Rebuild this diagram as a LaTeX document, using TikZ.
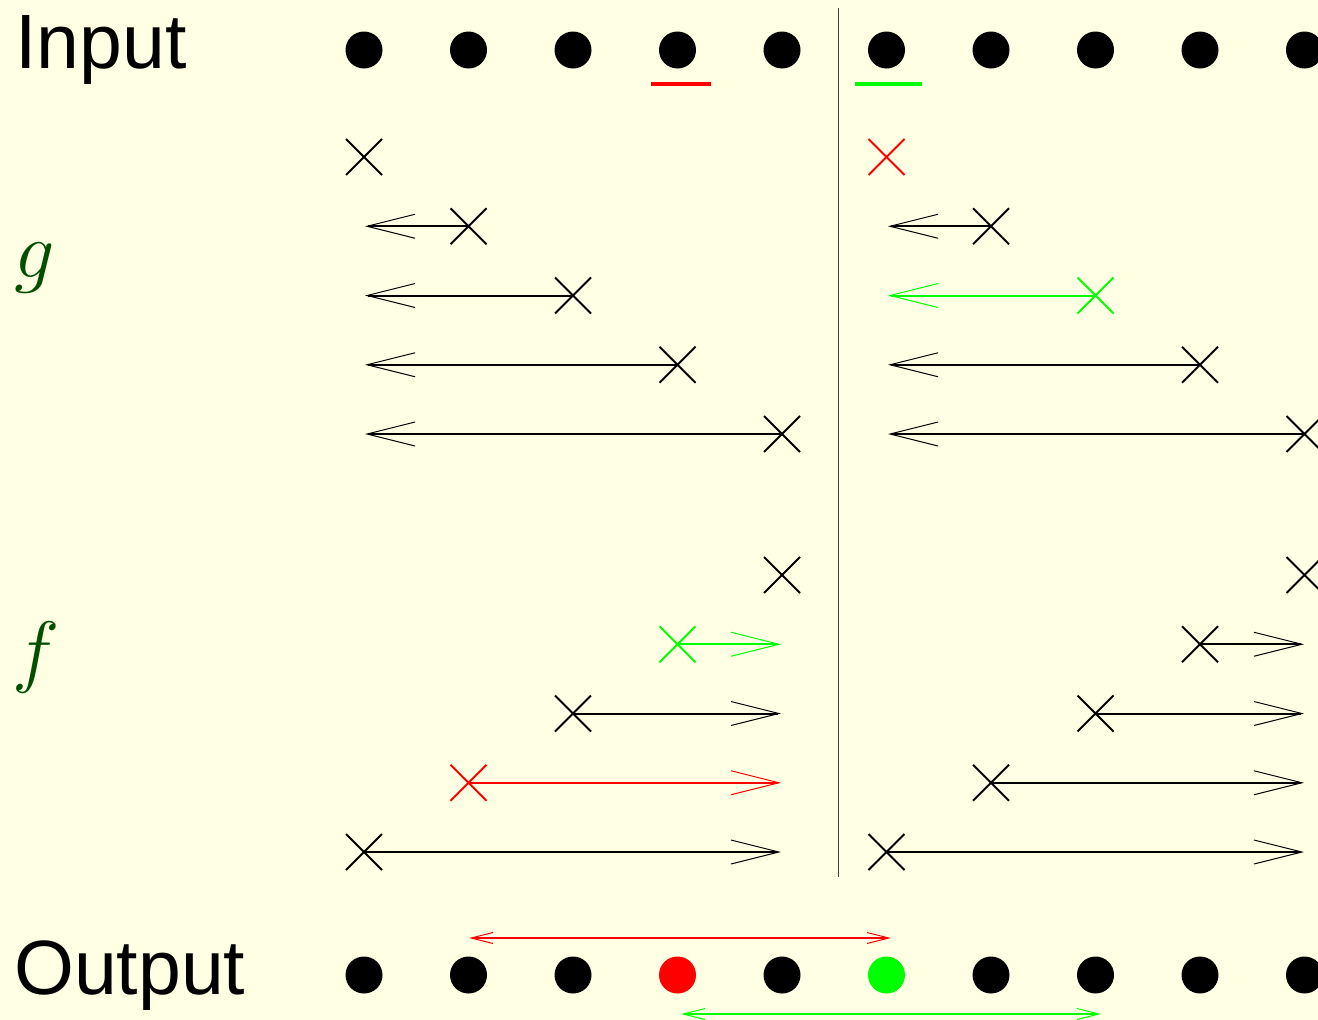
\RequirePackage{fix-cm}
\documentclass[tikz,border=0pt]{standalone}
\usepackage{fontspec}
\setmainfont{Liberation Sans}
\usetikzlibrary{arrows.meta,shapes.misc,calc}
\definecolor{bg}{RGB}{255,255,228}
\definecolor{dkgreen}{RGB}{0,80,0}
\definecolor{pgreen}{RGB}{0,255,0}
\definecolor{pred}{RGB}{255,0,0}
\begin{document}
\begin{tikzpicture}[x=1pt,y=-1pt,
  dot/.style={circle,fill=#1,inner sep=0pt,minimum size=37pt},
  dot/.default=black,
  xmark/.style={cross out,draw=#1,line width=2pt,inner sep=0pt,outer sep=0pt,minimum size=36pt},
  xmark/.default=black,
  bigarrow/.style={-{Straight Barb[length=48pt,width=24pt,line width=1pt]},line width=2pt},
  smallarrow/.style={{Straight Barb[length=22pt,width=11pt,line width=1pt]}-{Straight Barb[length=22pt,width=11pt,line width=1pt]},line width=2pt},
  lbl/.style={anchor=base west,inner sep=0pt,font=\fontsize{77}{80}\selectfont},
  mlbl/.style={anchor=base west,inner sep=0pt,text=dkgreen,font=\fontsize{80}{80}\selectfont},
  uline/.style={line width=4.5pt,draw=#1}
]
\useasboundingbox (0,0) rectangle (1318,1020);
\fill[bg] (0,0) rectangle (1318,1020);
\begin{scope}
\clip (0,0) rectangle (1318,1020);

% labels
\node[lbl] (inputlbl) at (15,68) {Input};
\node[lbl] (outputlbl) at (14,994) {Output};
\node[mlbl] (glbl) at (14,277) {$g$};
\node[mlbl] (flbl) at (12,677) {$f$};

% separator
\coordinate (vtop) at (838.5,8);
\coordinate (vbot) at (838.5,877);
\draw[line width=1.3pt,black!75] (vtop) -- (vbot);

% input and output dots
\foreach \i in {1,...,10} {
  \node[dot] (in\i) at ({364+104.5*(\i-1)},50) {};
}
\foreach \i/\c in {1/black,2/black,3/black,4/pred,5/black,6/pgreen,7/black,8/black,9/black,10/black} {
  \node[dot=\c] (out\i) at ({364+104.5*(\i-1)},975) {};
}

% underlines
\coordinate (ura) at ($(in4)+(-27,34)$);
\coordinate (urb) at ($(in4)+(33,34)$);
\draw[uline=pred] (ura) -- (urb);
\coordinate (uga) at ($(in6)+(-32,34)$);
\coordinate (ugb) at ($(in6)+(35,34)$);
\draw[uline=pgreen] (uga) -- (ugb);

% g rows, left
\foreach \k/\c in {1/black,2/black,3/black,4/black,5/black} {
  \node[xmark=\c] (gl\k) at ({364+104.5*(\k-1)},{157+69.25*(\k-1)}) {};
  \coordinate (glt\k) at (365,{157+69.25*(\k-1)});
}
\foreach \k/\c in {2/black,3/black,4/black,5/black} {
  \draw[bigarrow,\c] (gl\k.center) -- (glt\k);
}
% g rows, right
\foreach \k/\c in {1/pred,2/black,3/pgreen,4/black,5/black} {
  \node[xmark=\c] (gr\k) at ({886.5+104.5*(\k-1)},{157+69.25*(\k-1)}) {};
  \coordinate (grt\k) at (888,{157+69.25*(\k-1)});
}
\foreach \k/\c in {2/black,3/pgreen,4/black,5/black} {
  \draw[bigarrow,\c] (gr\k.center) -- (grt\k);
}

% f rows, left
\foreach \k/\c in {1/black,2/pgreen,3/black,4/pred,5/black} {
  \node[xmark=\c] (fl\k) at ({782-104.5*(\k-1)},{575+69.25*(\k-1)}) {};
  \coordinate (flt\k) at (781,{575+69.25*(\k-1)});
}
\foreach \k/\c in {2/pgreen,3/black,4/pred,5/black} {
  \draw[bigarrow,\c] (fl\k.center) -- (flt\k);
}
% f rows, right
\foreach \k/\c in {1/black,2/black,3/black,4/black,5/black} {
  \node[xmark=\c] (fr\k) at ({1304.5-104.5*(\k-1)},{575+69.25*(\k-1)}) {};
  \coordinate (frt\k) at (1304,{575+69.25*(\k-1)});
}
\foreach \k in {2,3,4,5} {
  \draw[bigarrow] (fr\k.center) -- (frt\k);
}

% output ranges
\coordinate (rra) at (469,938);
\coordinate (rrb) at (891,938);
\draw[smallarrow,pred] (rra) -- (rrb);
\coordinate (gra) at (681,1014);
\coordinate (grb) at (1101,1014);
\draw[smallarrow,pgreen] (gra) -- (grb);
\end{scope}
\end{tikzpicture}
\end{document}
